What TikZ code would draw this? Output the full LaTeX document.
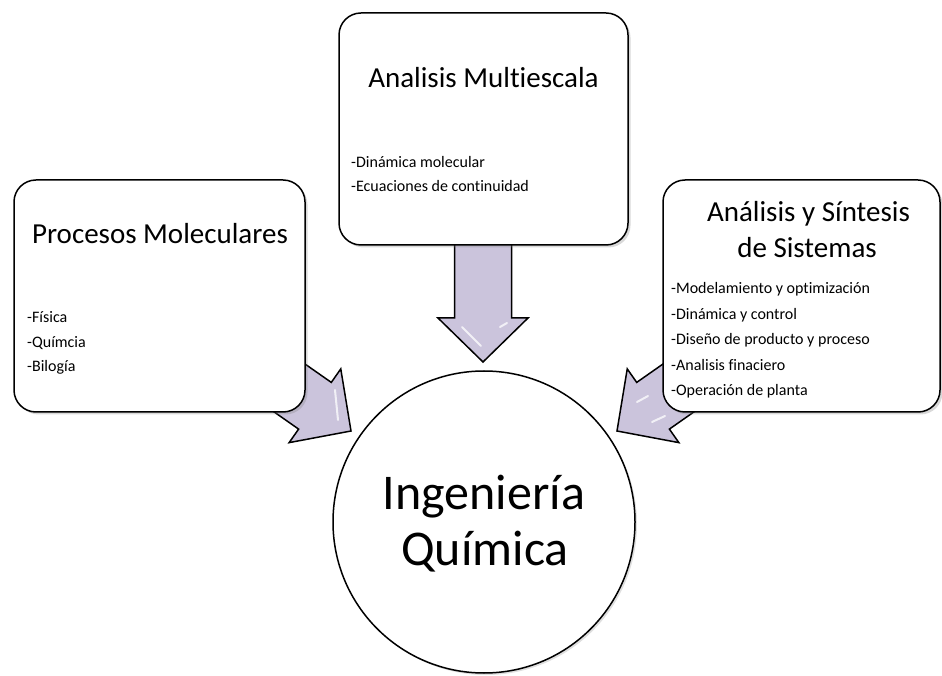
\documentclass[tikz,border=0pt]{standalone}
\usepackage{fontspec}
\setmainfont{Carlito}[Ligatures={NoCommon,NoContextual}]
\usetikzlibrary{shadows}
\definecolor{lav}{RGB}{203,196,220}
\begin{document}
\begin{tikzpicture}[x=1pt,y=1pt,
  boxst/.style={draw=black, line width=1.5pt, fill=white, rounded corners=22pt, inner sep=0pt,
    drop shadow={shadow xshift=2.5pt, shadow yshift=-2.5pt, opacity=0.3}},
  arrowst/.style={draw=black, line width=1.5pt, fill=lav, line join=miter},
  gloss/.style={white, line width=2pt, line cap=round, opacity=0.75},
  titlest/.style={inner sep=0pt, anchor=base, font=\fontsize{29}{34}\selectfont},
  itemst/.style={inner sep=0pt, anchor=base west, font=\fontsize{16}{19}\selectfont},
  bigst/.style={inner sep=0pt, anchor=base, font=\fontsize{50}{60}\selectfont},
  blockarr/.pic={\draw[arrowst] (0,0) -- (-44,45) -- (-44,28.5) -- (-140,28.5) -- (-140,-28.5) -- (-44,-28.5) -- (-44,-45) -- cycle;}]
\useasboundingbox (0,0) rectangle (942,675);
% arrow tips
\coordinate (tipL) at (351,244);
\coordinate (tipM) at (483,313);
\coordinate (tipR) at (617,244);
\path (tipL) pic[rotate=-35] {blockarr};
\path (tipM) pic[rotate=-90] {blockarr};
\path (tipR) pic[rotate=-145] {blockarr};
% glossy highlights
\coordinate (gL1) at (335,285); \coordinate (gL2) at (338,255);
\coordinate (gM1) at (462,348); \coordinate (gM2) at (481,329);
\coordinate (gM3) at (500,348); \coordinate (gM4) at (507,352);
\coordinate (gR1) at (637,273); \coordinate (gR2) at (648,279);
\coordinate (gR3) at (652,253); \coordinate (gR4) at (665,259);
\draw[gloss] (gL1) -- (gL2);
\draw[gloss] (gM1) -- (gM2);
\draw[gloss] (gM3) -- (gM4);
\draw[gloss] (gR1) -- (gR2);
\draw[gloss] (gR3) -- (gR4);
% boxes
\node[boxst, minimum width=291pt, minimum height=232pt] (boxL) at (159.5,379) {};
\node[boxst, minimum width=289pt, minimum height=232pt] (boxM) at (483.5,546) {};
\node[boxst, minimum width=277pt, minimum height=232pt] (boxR) at (801.5,379) {};
% circle
\node[circle, draw=black, line width=1.5pt, fill=white, minimum size=302pt, inner sep=0pt,
  drop shadow={shadow xshift=2pt, shadow yshift=-2pt, opacity=0.25}] (ing) at (484,153) {};
% titles
\node[titlest] (tL) at (160,431) {Procesos Moleculares};
\node[titlest] (tM) at (483.5,587) {Analisis Multiescala};
\node[titlest] (tR1) at (808.5,453) {Análisis y Síntesis};
\node[titlest] (tR2) at (807,417) {de Sistemas};
% items
\node[itemst] (l1) at (27,352) {-Física};
\node[itemst] (l2) at (27,327) {-Químcia};
\node[itemst] (l3) at (27,303) {-Bilogía};
\node[itemst] (m1) at (351,507) {-Dinámica molecular};
\node[itemst] (m2) at (351,483) {-Ecuaciones de continuidad};
\node[itemst] (r1) at (671,381) {-Modelamiento y optimización};
\node[itemst] (r2) at (671,355) {-Dinámica y control};
\node[itemst] (r3) at (671,330) {-Diseño de producto y proceso};
\node[itemst] (r4) at (671,304) {-Analisis finaciero};
\node[itemst] (r5) at (671,279) {-Operación de planta};
% center text
\node[bigst] (c1) at (484,165) {Ingeniería};
\node[bigst] (c2) at (485,110) {Química};
\end{tikzpicture}
\end{document}
